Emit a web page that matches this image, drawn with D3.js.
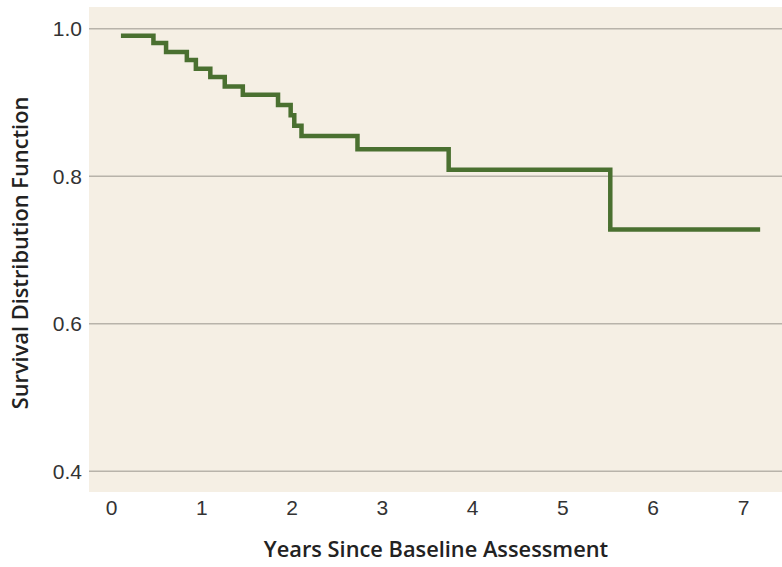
<!DOCTYPE html>
<html><head><meta charset="utf-8">
<script src="https://cdn.jsdelivr.net/npm/d3@7"></script>
<style>
html,body{margin:0;padding:0;background:#fff;}
svg{display:block;font-family:"Open Sans",Lato,sans-serif;}
</style></head>
<body><svg id="c" width="782" height="567"></svg>
<script>
// Kaplan-Meier step data (time in years, survival)
const stepTimes = [0.11, 0.47, 0.61, 0.84, 0.94, 1.10, 1.26, 1.46, 1.85, 1.99, 2.03, 2.11, 2.73, 3.74, 5.53, 7.19];
const survival  = [0.99, 0.98, 0.968, 0.957, 0.945, 0.934, 0.921, 0.910, 0.896, 0.882, 0.868, 0.854, 0.836, 0.808, 0.727, 0.727];
const xTicks = [0,1,2,3,4,5,6,7];
const yTicks = [0.4,0.6,0.8,1.0];
const xTitle = "Years Since Baseline Assessment";
const yTitle = "Survival Distribution Function";

const svg = d3.select("#c");
const panel = {left:89, right:782, top:7, bottom:492};
const x = d3.scaleLinear().domain([0,7]).range([111,743]);
const y = d3.scaleLinear().domain([0.4,1.0]).range([470.7,28.3]);

svg.append("rect").attr("x",panel.left).attr("y",panel.top)
  .attr("width",panel.right-panel.left).attr("height",panel.bottom-panel.top)
  .attr("fill","#f5efe4");

// y axis with gridlines
const yAxis = d3.axisLeft(y).tickValues(yTicks).tickFormat(d3.format(".1f"))
  .tickSize(-(panel.right-panel.left)).tickPadding(6);
const gy = svg.append("g").attr("transform",`translate(${panel.left},0)`).call(yAxis);
gy.select(".domain").remove();
gy.selectAll(".tick line").attr("stroke","#b8b3aa").attr("stroke-width",1.5);
gy.selectAll(".tick text").attr("font-size",21).attr("font-weight",300).attr("fill","#333")
  .attr("x",-7).attr("dy","0.35em");

// x axis
const xAxis = d3.axisBottom(x).tickValues(xTicks).tickFormat(d3.format("d")).tickSize(0).tickPadding(0);
const gx = svg.append("g").attr("transform",`translate(0,${panel.bottom})`).call(xAxis);
gx.select(".domain").remove();
gx.selectAll(".tick text").attr("font-size",21).attr("font-weight",300).attr("fill","#333")
  .attr("y",8).attr("dy","0.71em");

// step line
const pts = stepTimes.map((t,i)=>({t, s:survival[i]}));
const line = d3.line().x(d=>x(d.t)).y(d=>y(d.s)).curve(d3.curveStepAfter);
svg.append("path").datum(pts).attr("d",line)
  .attr("fill","none").attr("stroke","#4a7030").attr("stroke-width",4.5)
  .attr("stroke-linejoin","miter").attr("stroke-linecap","butt");

// titles
svg.append("text").attr("x",436).attr("y",557).attr("text-anchor","middle")
  .attr("font-size",21.8).attr("font-weight",600).attr("fill","#222").text(xTitle);
svg.append("text").attr("transform","translate(28,253) rotate(-90)").attr("text-anchor","middle")
  .attr("font-size",21.8).attr("font-weight",600).attr("fill","#222").text(yTitle);
</script></body></html>
